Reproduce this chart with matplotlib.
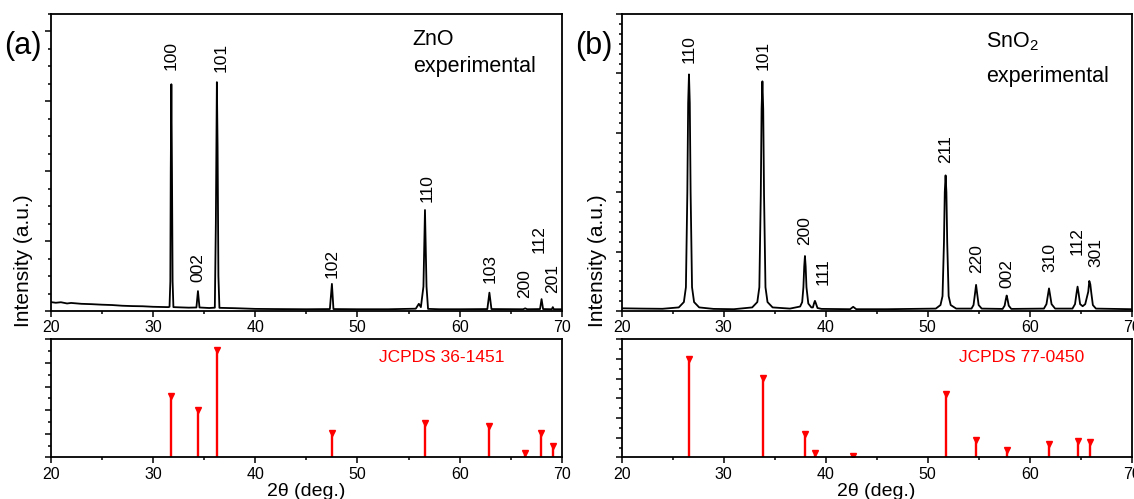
import matplotlib
matplotlib.use("Agg")
import matplotlib.pyplot as plt
from matplotlib.ticker import MultipleLocator

plt.rcParams["font.family"] = ["Liberation Sans", "DejaVu Sans"]
plt.rcParams["mathtext.default"] = "regular"

# ---- (a) ZnO experimental pattern (2theta [deg], counts)
zno_tth = [20.0, 20.5, 21.0, 21.6, 22.0, 23.0, 24.0, 25.0, 26.0, 27.0, 28.0, 29.0, 30.0,
           31.5, 31.62, 31.7, 31.74, 31.8, 31.86, 31.92, 32.0, 33.5, 34.25, 34.4, 34.55,
           35.5, 36.05, 36.15, 36.25, 36.32, 36.4, 36.5, 38.0, 40.0, 42.0, 45.0, 47.3,
           47.5, 47.65, 50.0, 53.0, 55.7, 56.0, 56.2, 56.45, 56.6, 56.75, 56.9, 58.0,
           60.0, 62.7, 62.9, 63.1, 66.2, 66.4, 66.6, 67.85, 68.0, 68.15, 69.0, 69.1,
           69.2, 70.0]
zno_int = [255, 235, 250, 215, 230, 205, 195, 180, 170, 150, 140, 135, 120,
           110, 120, 850, 4000, 6490, 4000, 850, 110, 95, 100, 570, 100,
           85, 95, 2500, 6550, 4700, 1000, 90, 80, 60, 55, 50, 55,
           775, 55, 50, 50, 65, 205, 110, 700, 2890, 700, 60, 50,
           50, 55, 525, 55, 50, 75, 50, 55, 340, 55, 50, 110,
           50, 50]

zno_hkl = ["100", "002", "101", "102", "110", "103", "200", "112", "201"]
zno_peak_tth = [31.8, 34.4, 36.25, 47.5, 56.6, 62.9, 66.4, 68.0, 69.1]
zno_peak_int = [6490, 570, 6550, 775, 2890, 525, 75, 340, 110]

# JCPDS 36-1451 reference lines
zno_ref_tth = [31.77, 34.42, 36.25, 47.54, 56.60, 62.86, 66.38, 67.96, 69.10]
zno_ref_int = [57, 44, 100, 23, 32, 29, 4, 23, 11]

# ---- (b) SnO2 experimental pattern
sno_tth = [20.0, 22.0, 24.0, 25.6, 26.1, 26.3, 26.44, 26.52, 26.6, 26.68, 26.76, 26.9,
           27.1, 27.6, 29.0, 31.0, 32.8, 33.3, 33.5, 33.64, 33.72, 33.8, 33.88, 33.96,
           34.1, 34.3, 34.8, 36.5, 37.5, 37.7, 37.82, 37.9, 37.97, 38.04, 38.12, 38.3,
           38.6, 38.75, 38.88, 38.95, 39.02, 39.2, 39.6, 42.4, 42.7, 43.0, 46.0, 50.8,
           51.26, 51.46, 51.6, 51.68, 51.76, 51.84, 51.92, 52.06, 52.26, 52.8, 54.3,
           54.5, 54.65, 54.75, 54.85, 55.0, 55.3, 57.35, 57.55, 57.67, 57.75, 57.83,
           57.95, 58.2, 61.4, 61.65, 61.8, 61.9, 62.0, 62.15, 62.5, 64.2, 64.45, 64.6,
           64.7, 64.8, 64.95, 65.2, 65.45, 65.75, 65.85, 65.95, 66.05, 66.2, 66.5, 70.0]
sno_int = [27, 24, 22, 36, 90, 240, 1200, 2100, 2390, 2100, 1200, 240,
           90, 36, 21, 18, 36, 90, 240, 1170, 2040, 2320, 2040, 1170,
           240, 90, 36, 24, 45, 90, 240, 450, 555, 450, 240, 75,
           36, 36, 84, 102, 84, 30, 21, 18, 42, 18, 18, 24,
           60, 150, 690, 1200, 1370, 1200, 690, 150, 60, 24, 24,
           60, 180, 264, 180, 60, 24, 21, 54, 120, 156, 120,
           54, 21, 24, 69, 165, 228, 165, 69, 24, 24, 69, 180,
           246, 180, 69, 48, 69, 195, 303, 270, 180, 60, 24, 18]

sno_hkl = ["110", "101", "200", "111", "211", "220", "002", "310", "112", "301"]
sno_peak_tth = [26.6, 33.8, 37.97, 38.95, 51.76, 54.75, 57.75, 61.9, 64.7, 65.85]
sno_peak_int = [2390, 2320, 555, 102, 1370, 264, 156, 228, 246, 303]

# JCPDS 77-0450 reference lines
sno_ref_tth = [26.61, 33.89, 37.95, 38.97, 42.64, 51.78, 54.76, 57.82, 61.87, 64.72, 65.94]
sno_ref_int = [100, 81, 24, 5, 2, 64, 18, 8, 14, 17, 16]


def style_axes(ax, ymax, ystep, ymajor):
    ax.set_xlim(20, 70)
    ax.set_ylim(0, ymax)
    ax.xaxis.set_major_locator(MultipleLocator(10))
    ax.xaxis.set_minor_locator(MultipleLocator(5))
    ax.yaxis.set_major_locator(MultipleLocator(ymajor))
    ax.yaxis.set_minor_locator(MultipleLocator(ystep))
    ax.tick_params(which="both", direction="out", top=False, right=False,
                   labelleft=False, labelsize=11.5, width=1.1, pad=2)
    ax.tick_params(which="major", length=4.5)
    ax.tick_params(which="minor", length=2.5)
    for sp in ax.spines.values():
        sp.set_linewidth(1.3)


def draw_panel(fig, left, width, tth, inten, hkl, pk_x, pk_y, lbl_dx, lbl_gap,
               ymax, ystep, ymajor, ref_x, ref_y, ref_max, ref_step, ref_major,
               ref_name, ref_pos, phase, phase_pos, letter, letter_x, ylab_x):
    ax = fig.add_axes([left, 0.3768, width, 0.5951])
    ax.plot(tth, inten, color="black", lw=1.3)
    for h, x, y, dx, gap in zip(hkl, pk_x, pk_y, lbl_dx, lbl_gap):
        ax.annotate(h, xy=(x, y), xytext=(dx, gap), textcoords="offset pixels",
                    rotation=90, ha="center", va="bottom", fontsize=12.5)
    style_axes(ax, ymax, ystep, ymajor)
    ax.text(phase_pos[0], phase_pos[1], phase, transform=ax.transAxes,
            fontsize=15.5, ha="left", va="baseline")
    ax.text(phase_pos[0], phase_pos[2], "experimental", transform=ax.transAxes,
            fontsize=15.5, ha="left", va="baseline")

    axr = fig.add_axes([left, 0.0832, width, 0.2369])
    axr.vlines(ref_x, 0, ref_y, color="#ff0000", lw=1.7)
    axr.plot(ref_x, ref_y, linestyle="none", marker="v", color="#ff0000", markersize=4.5)
    style_axes(axr, ref_max, ref_step, ref_major)
    axr.text(ref_pos, 0.91, ref_name, transform=axr.transAxes, color="#ff0000",
             fontsize=12.5, ha="right", va="top")
    axr.set_xlabel("2\u03b8 (deg.)", fontsize=14, labelpad=1)

    fig.text(letter_x, 0.908, letter, fontsize=22, ha="left", va="center")
    fig.text(ylab_x, 0.477, "Intensity (a.u.)", fontsize=15, rotation=90,
             ha="center", va="center")


def main():
    fig = plt.figure(figsize=(11.34, 4.99), dpi=100)

    draw_panel(fig, 0.0447, 0.4509, zno_tth, zno_int, zno_hkl, zno_peak_tth, zno_peak_int,
               [0, 0, 4, 0, 2, 1, -1, -2, 0], [14, 9, 10, 6, 8, 10, 10, 46, 14],
               8500, 500, 2000, zno_ref_tth, zno_ref_int, 110, 11, 22,
               "JCPDS 36-1451", 0.888, "ZnO", (0.708, 0.896, 0.805),
               "(a)", 0.004, 0.0203)

    draw_panel(fig, 0.5482, 0.4497, sno_tth, sno_int, sno_hkl, sno_peak_tth, sno_peak_int,
               [0, 1, 0, 8, 0, 1, 0, 1, 0, 7], [11, 11, 11, 16, 12, 12, 8, 16, 32, 14],
               3000, 100, 600, sno_ref_tth, sno_ref_int, 120, 10, 20,
               "JCPDS 77-0450", 0.908, "SnO$_2$", (0.715, 0.889, 0.771),
               "(b)", 0.507, 0.527)

    fig.savefig("out.png", dpi=100)
    plt.close(fig)


if __name__ == "__main__":
    main()
